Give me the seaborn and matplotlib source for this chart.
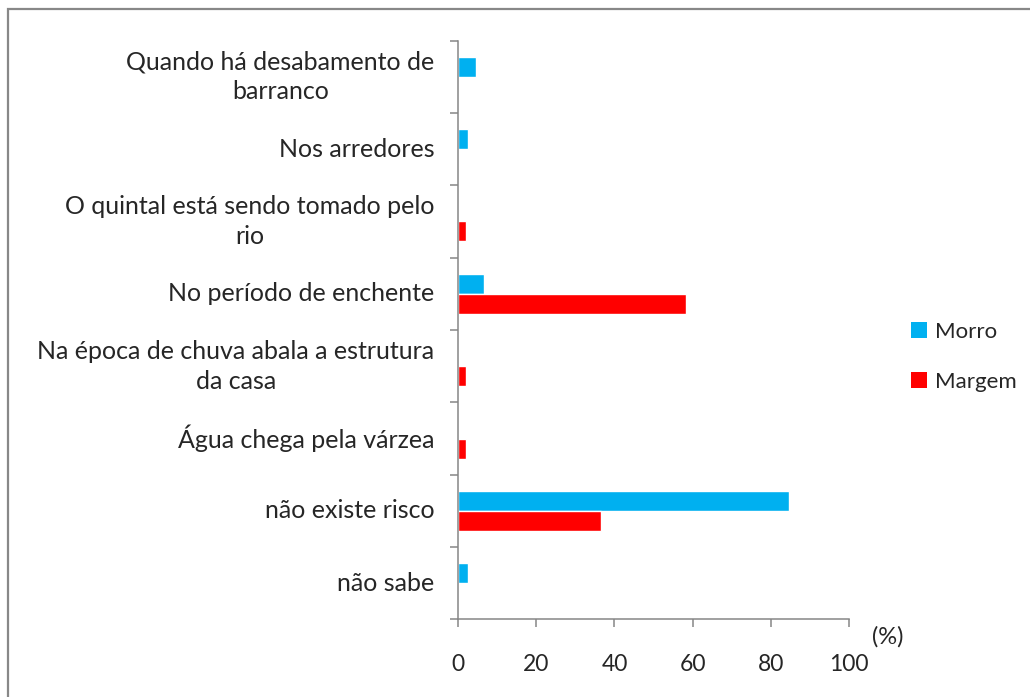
import matplotlib
matplotlib.use("Agg")
import matplotlib.pyplot as plt
from matplotlib.patches import Patch, Rectangle
import pandas as pd
import seaborn as sns

categories = [
    "Quando há desabamento de\nbarranco",
    "Nos arredores",
    "O quintal está sendo tomado pelo\nrio",
    "No período de enchente",
    "Na época de chuva abala a estrutura\nda casa",
    "Água chega pela várzea",
    "não existe risco",
    "não sabe",
]
series = ["Morro", "Margem"]
morro = [4.7, 2.5, 0, 6.7, 0, 0, 84.7, 2.5]
margem = [0, 0, 2.1, 58.2, 2.1, 2.1, 36.5, 0]
colors = ["#00B0F0", "#FF0000"]
x_ticks = [0, 20, 40, 60, 80, 100]

df = pd.DataFrame({
    "categoria": categories * 2,
    "serie": ["Morro"] * len(categories) + ["Margem"] * len(categories),
    "valor": morro + margem,
})

sns.set_style("white")
plt.rcParams["font.family"] = ["Lato", "DejaVu Sans"]

fig = plt.figure(figsize=(10.3, 6.97), dpi=100)
ax = fig.add_axes([0.4447, 0.1112, 0.3796, 0.8306])

sns.barplot(data=df, y="categoria", x="valor", hue="serie", order=categories,
            hue_order=series, palette=colors, orient="h", width=0.553,
            saturation=1, errorbar=None, legend=False, ax=ax)

gray = "#868686"
ax.set_xlim(0, 100)
ax.set_ylim(len(categories) - 0.5, -0.5)
ax.set_xticks(x_ticks)
ax.set_xticklabels([str(t) for t in x_ticks], fontsize=16.5)
ax.set_yticks(range(len(categories)))
ax.set_yticklabels(categories, fontsize=18, multialignment="center",
                   linespacing=1.35, va="center")
ax.set_yticks([i - 0.5 for i in range(len(categories) + 1)], minor=True)
ax.tick_params(axis="y", which="major", left=True, length=0, pad=17)
ax.tick_params(axis="y", which="minor", left=True, length=6, width=1.1, color=gray)
ax.tick_params(axis="x", bottom=True, length=6, width=1.1, color=gray, pad=19)
ax.set_xlabel("")
ax.set_ylabel("")
for side in ["top", "right"]:
    ax.spines[side].set_visible(False)
for side in ["left", "bottom"]:
    ax.spines[side].set_color(gray)
    ax.spines[side].set_linewidth(1.1)

fig.text(0.862, 1 - 637 / 697, "(%)", fontsize=17, ha="center", va="center")

handles = [Patch(facecolor=c, edgecolor="none") for c in colors]
fig.legend(handles, series, loc="center left", bbox_to_anchor=(0.865, 1 - 357 / 697),
           frameon=False, fontsize=16, handlelength=0.7, handleheight=0.7,
           handletextpad=0.4, labelspacing=1.35)

fig.patches.append(Rectangle((8 / 1030, -0.1), 1.2, 1 - 9 / 697 + 0.1,
                             transform=fig.transFigure, fill=False,
                             edgecolor="#888888", linewidth=1.6))

fig.savefig("out.png", dpi=100)
